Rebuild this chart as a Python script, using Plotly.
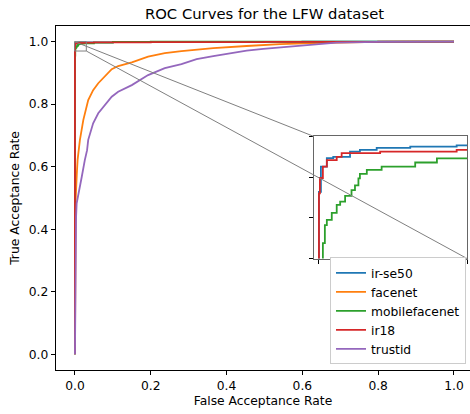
import plotly.graph_objects as go

# ---- data ----
names = ["ir-se50", "facenet", "mobilefacenet", "ir18", "trustid"]
colors = ["#1f77b4", "#ff7f0e", "#2ca02c", "#d62728", "#9467bd"]

irse50_fpr = [0, 0, 0.0004, 0.0016, 0.0029, 0.0063, 0.0083, 0.0117, 0.0185, 0.0279, 0.1, 0.3, 0.6, 1.0]
irse50_tpr = [0, 0.9864, 0.9926, 0.9947, 0.995, 0.9963, 0.9967, 0.9972, 0.9975, 0.9978, 0.9985, 0.999, 1.0, 1.0]

facenet_fpr = [0, 0.0005, 0.002, 0.005, 0.007, 0.013, 0.022, 0.035, 0.048, 0.0615, 0.079, 0.097, 0.114,
               0.15, 0.193, 0.237, 0.281, 0.365, 0.453, 0.541, 0.629, 0.69, 0.8, 0.9, 1.0]
facenet_tpr = [0, 0.3, 0.5, 0.58, 0.622, 0.685, 0.749, 0.813, 0.845, 0.867, 0.888, 0.912, 0.922,
               0.934, 0.952, 0.963, 0.970, 0.979, 0.986, 0.992, 0.995, 0.997, 0.999, 1.0, 1.0]

mobile_fpr = [0, 0, 0.0003, 0.0008, 0.0012, 0.0016, 0.0026, 0.0036, 0.0043, 0.0053, 0.0066, 0.0073, 0.008,
              0.0083, 0.0097, 0.0127, 0.0195, 0.0239, 0.05, 0.1, 0.2, 1.0]
mobile_tpr = [0, 0.93, 0.955, 0.9738, 0.9782, 0.9795, 0.9812, 0.9832, 0.984, 0.9854, 0.9868, 0.988, 0.9897,
              0.9908, 0.9918, 0.9926, 0.9936, 0.9946, 0.997, 0.999, 1.0, 1.0]

ir18_fpr = [0, 0, 0.0002, 0.0008, 0.0016, 0.0036, 0.0046, 0.0124, 0.0279, 0.05, 0.2, 0.5, 0.8, 1.0]
ir18_tpr = [0, 0.986, 0.9898, 0.9926, 0.9942, 0.995, 0.9959, 0.9963, 0.9967, 0.9975, 0.9985, 0.9995, 1.0, 1.0]

trustid_fpr = [0, 0.0005, 0.002, 0.003, 0.0045, 0.009, 0.018, 0.026, 0.032, 0.035, 0.048, 0.0615, 0.079,
               0.097, 0.114, 0.15, 0.193, 0.237, 0.281, 0.321, 0.365, 0.409, 0.453, 0.497, 0.541, 0.585,
               0.629, 0.69, 0.8, 0.86, 1.0]
trustid_tpr = [0, 0.2, 0.366, 0.44, 0.483, 0.515, 0.568, 0.621, 0.653, 0.686, 0.739, 0.771, 0.797,
               0.824, 0.84, 0.861, 0.893, 0.915, 0.928, 0.944, 0.954, 0.963, 0.971, 0.977, 0.982, 0.986,
               0.992, 0.997, 0.999, 1.0, 1.0]

series_fpr = [irse50_fpr, facenet_fpr, mobile_fpr, ir18_fpr, trustid_fpr]
series_tpr = [irse50_tpr, facenet_tpr, mobile_tpr, ir18_tpr, trustid_tpr]
shapes_kind = ["hv", "linear", "hv", "hv", "linear"]

x_ticks = [0.0, 0.2, 0.4, 0.6, 0.8, 1.0]
y_ticks = [0.0, 0.2, 0.4, 0.6, 0.8, 1.0]
inset_xlim = [-0.001, 0.03]
inset_ylim = [0.97, 1.0]
inset_xticks = [0.0, 0.01, 0.02, 0.03]
inset_yticks = [0.97, 0.98, 0.99, 1.0]

# ---- layout geometry ----
W, H = 470, 414
ML, MR, MT, MB = 56, 0, 26, 44
x_range = [-0.05, 1.0423]
y_range = [-0.05, 1.05]
inset_dom_x = [0.6232, 0.9928]
inset_dom_y = [0.3241, 0.6788]

FONT = "DejaVu Sans"
fig = go.Figure()

for nm, c, fx, ty, sh in zip(names, colors, series_fpr, series_tpr, shapes_kind):
    fig.add_trace(go.Scatter(x=fx, y=ty, mode="lines", name=nm,
                             line=dict(color=c, width=1.8, shape=sh),
                             xaxis="x", yaxis="y"))
for nm, c, fx, ty, sh in zip(names, colors, series_fpr, series_tpr, shapes_kind):
    fig.add_trace(go.Scatter(x=fx, y=ty, mode="lines", name=nm, showlegend=False,
                             line=dict(color=c, width=1.8, shape=sh),
                             xaxis="x2", yaxis="y2"))

def px(v):
    return (v - x_range[0]) / (x_range[1] - x_range[0])

def py(v):
    return (v - y_range[0]) / (y_range[1] - y_range[0])

gray = "#808080"
shapes = [
    dict(type="rect", xref="x", yref="y", x0=inset_xlim[0], x1=inset_xlim[1],
         y0=inset_ylim[0], y1=inset_ylim[1], line=dict(color=gray, width=1), layer="above"),
    dict(type="line", xref="paper", yref="paper", x0=px(inset_xlim[0]), y0=py(inset_ylim[1]),
         x1=inset_dom_x[0], y1=inset_dom_y[1], line=dict(color=gray, width=1), layer="above"),
    dict(type="line", xref="paper", yref="paper", x0=px(inset_xlim[1]), y0=py(inset_ylim[0]),
         x1=inset_dom_x[1], y1=inset_dom_y[0], line=dict(color=gray, width=1), layer="above"),
]

tickfont = dict(family=FONT, size=12.3, color="black")
fig.update_layout(
    width=W, height=H,
    margin=dict(l=ML, r=MR, t=MT, b=MB, autoexpand=False),
    paper_bgcolor="white", plot_bgcolor="white",
    hovermode=False,
    title=dict(text="ROC Curves for the LFW dataset", font=dict(family=FONT, size=14.8, color="black"),
               x=264.5 / W, xref="container", xanchor="center",
               y=1 - 14 / H, yref="container", yanchor="middle", automargin=False),
    xaxis=dict(range=x_range, domain=[0, 1], tickvals=x_ticks, ticktext=[f"{v:.1f}" for v in x_ticks],
               ticks="outside", ticklen=4.3, tickwidth=1, tickcolor="black",
               showline=True, linecolor="black", linewidth=1, mirror=True, automargin=False,
               showgrid=False, zeroline=False, tickfont=tickfont,
               title=dict(text="False Acceptance Rate", font=tickfont, standoff=4)),
    yaxis=dict(range=y_range, domain=[0, 1], tickvals=y_ticks, ticktext=[f"{v:.1f}" for v in y_ticks],
               ticks="outside", ticklen=4.3, tickwidth=1, tickcolor="black",
               showline=True, linecolor="black", linewidth=1, mirror=False, automargin=False,
               showgrid=False, zeroline=False, tickfont=tickfont,
               title=dict(text="True Acceptance Rate", font=tickfont, standoff=6)),
    xaxis2=dict(range=inset_xlim, domain=inset_dom_x, anchor="y2", tickvals=inset_xticks,
                showticklabels=False, ticks="outside", ticklen=4, tickwidth=1, tickcolor="black",
                showline=True, linecolor="#666666", linewidth=1.2, mirror=True, automargin=False,
                showgrid=False, zeroline=False),
    yaxis2=dict(range=inset_ylim, domain=inset_dom_y, anchor="x2", tickvals=inset_yticks,
                showticklabels=False, ticks="outside", ticklen=4, tickwidth=1, tickcolor="black",
                showline=True, linecolor="#666666", linewidth=1.2, mirror=True, automargin=False,
                showgrid=False, zeroline=False),
    legend=dict(x=(466 - ML) / (W - ML - MR), xanchor="right", y=(370 - 364.3) / (H - MT - MB),
                yanchor="bottom", bgcolor="white", bordercolor="#cccccc", borderwidth=1,
                font=dict(family=FONT, size=12.3, color="black"), tracegroupgap=0),
    shapes=shapes,
    showlegend=True,
)

fig.write_html("out.html", config={"displayModeBar": False, "staticPlot": True},
               post_script="document.body.style.margin='0';document.body.style.overflow='hidden';")
